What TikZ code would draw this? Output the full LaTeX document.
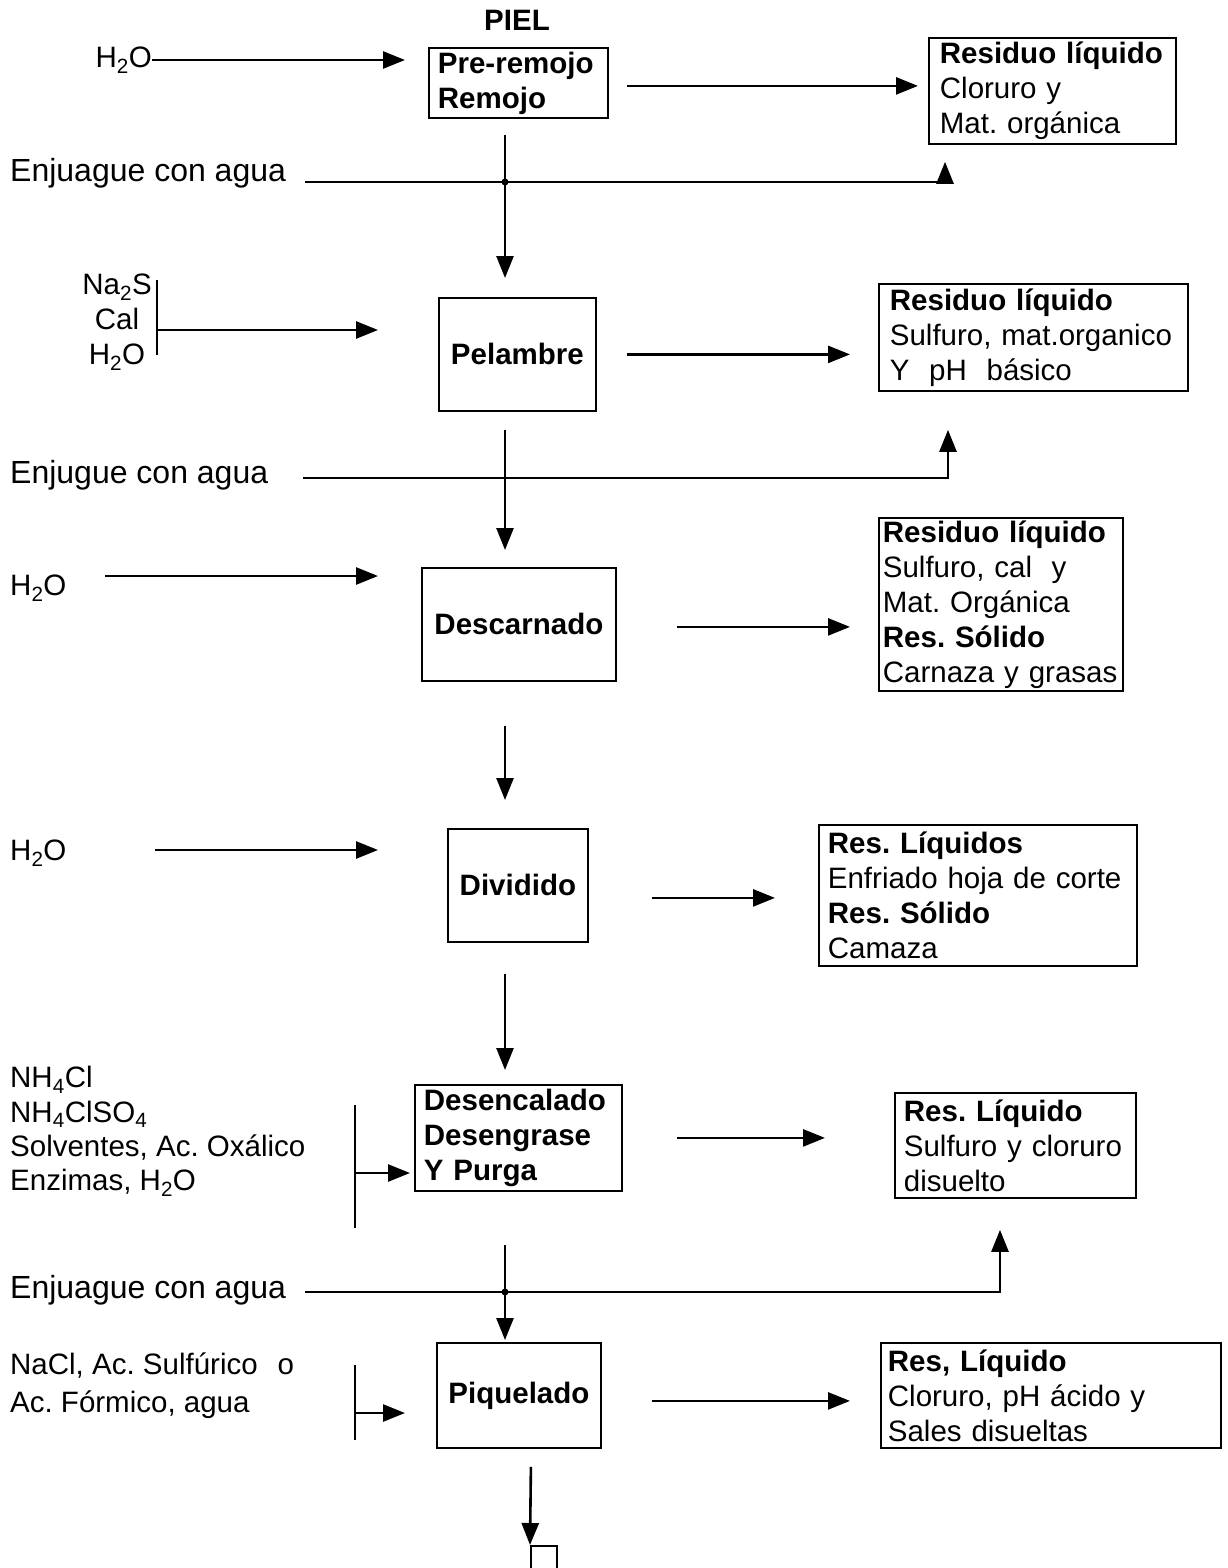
\documentclass[tikz,border=0pt]{standalone}
\usepackage{fontspec}
\setmainfont{Liberation Sans}
\usetikzlibrary{arrows.meta,calc}
\tikzset{
 txt/.style={font=\fontsize{29.5}{35}\selectfont, inner sep=0pt},
 bigtxt/.style={font=\fontsize{32}{38}\selectfont, inner sep=0pt},
 boxbase/.style={draw, line width=1.8pt, anchor=north west, inner xsep=10pt, inner ysep=0pt},
 proc/.style={boxbase, font=\fontsize{29.5}{35}\selectfont\bfseries, align=center},
 procL/.style={boxbase, font=\fontsize{29.5}{35}\selectfont\bfseries, align=left},
 res/.style={boxbase, inner xsep=11pt, font=\fontsize{29.5}{35}\selectfont, align=left},
 arr/.style={line width=2.6pt, -{Triangle[length=22pt,width=17pt]}},
 plainline/.style={line width=2.2pt},
}
\begin{document}
\frenchspacing
\begin{tikzpicture}[x=1pt,y=-1pt]
\useasboundingbox (0,0) rectangle (1227,1568);
\fill[white] (0,0) rectangle (1227,1568);
\coordinate (spine) at (505,0);

% ---------- Stage 1
\node[txt, font=\fontsize{29.5}{35}\selectfont\bfseries] (piel) at (517,20) {PIEL};
\node[procL, minimum width=179pt, minimum height=70pt, text width=161pt, inner xsep=9pt] (b1) at (428,47) {Pre-remojo\\Remojo};
\node[txt, anchor=east] (h1) at (152,60) {H\textsubscript{2}O};
\node[res, minimum width=247pt, minimum height=106pt, text width=225pt] (r1) at (928,37) {\textbf{Residuo líquido}\\Cloruro y\\Mat. orgánica};
\draw[arr] (h1.east) -- ($(h1.east -| b1.west)+(-23,0)$);
\draw[arr] ($(b1.east)+(18,3)$) -- ($(b1.east -| r1.west)+(-10,3)$);
\node[bigtxt, anchor=west] (e1) at (10,173) {Enjuague con agua};
\coordinate (s1) at (305,182);
\draw[arr] (s1) -| ($(r1.south west)+(17,17)$);

% ---------- Stage 2
\node[proc, minimum width=157pt, minimum height=113pt] (p2) at (438,297) {Pelambre};
\draw[arr] ($(spine |- b1.south)+(0,16)$) -- ($(spine |- p2.north)+(0,-19)$);
\fill (spine |- s1) circle (3.5);
\node[txt, align=center] (in2) at (117,322) {Na\textsubscript{2}S\\Cal\\H\textsubscript{2}O};
\coordinate (bar2a) at (157,280);
\coordinate (bar2b) at (157,355);
\coordinate (j2) at (157,330);
\draw[plainline] (bar2a) -- (bar2b);
\draw[arr] (j2) -- ($(j2 -| p2.west)+(-60,0)$);
\node[res, minimum width=309pt, minimum height=107pt, text width=287pt] (r2) at (878,283) {\textbf{Residuo líquido}\\Sulfuro, mat.organico\\Y\ \ pH\ \ básico};
\draw[arr] ($(p2.east)+(30,0)$) -- ($(p2.east -| r2.west)+(-28,0)$);
\node[bigtxt, anchor=west] (e2) at (10,475) {Enjugue con agua};
\coordinate (s2) at (303,478);
\draw[arr] (s2) -| ($(r2.south west)+(70,38)$);

% ---------- Stage 3
\node[proc, minimum width=194pt, minimum height=113pt] (d3) at (421,567) {Descarnado};
\draw[arr] ($(spine |- p2.south)+(0,18)$) -- ($(spine |- d3.north)+(0,-17)$);
\node[txt, anchor=west] (h3) at (10,588) {H\textsubscript{2}O};
\coordinate (s3) at (105,576);
\draw[arr] (s3) -- ($(s3 -| d3.west)+(-43,0)$);
\node[res, minimum width=244pt, minimum height=173pt, text width=236pt, inner xsep=4pt] (r3) at (878,517) {\textbf{Residuo líquido}\\Sulfuro, cal\ \ y\\Mat. Orgánica\\\textbf{Res. Sólido}\\Carnaza y grasas};
\draw[arr] ($(d3.east)+(60,2.5)$) -- ($(d3.east -| r3.west)+(-28,2.5)$);

% ---------- Stage 4
\node[proc, minimum width=140pt, minimum height=113pt] (v4) at (447,828) {Dividido};
\draw[arr] ($(spine |- d3.south)+(0,44)$) -- ($(spine |- v4.north)+(0,-28)$);
\node[txt, anchor=west] (h4) at (10,853) {H\textsubscript{2}O};
\coordinate (s4) at (155,850);
\draw[arr] (s4) -- ($(s4 -| v4.west)+(-69,0)$);
\node[res, minimum width=318pt, minimum height=141pt, text width=300pt, inner xsep=9pt] (r4) at (818,824) {\textbf{Res. Líquidos}\\Enfriado hoja de corte\\\textbf{Res. Sólido}\\Camaza};
\draw[arr] ($(v4.east)+(63,12.5)$) -- ($(v4.east -| r4.west)+(-43,12.5)$);

% ---------- Stage 5
\node[procL, minimum width=207pt, minimum height=106pt, text width=189pt, inner xsep=9pt] (s5) at (414,1084) {Desencalado\\Desengrase\\Y Purga};
\draw[arr] ($(spine |- v4.south)+(0,31)$) -- ($(spine |- s5.north)+(0,-14)$);
\node[txt, anchor=west, align=left, font=\fontsize{29.5}{34.3}\selectfont] (in5) at (10,1131.5) {NH\textsubscript{4}Cl\\NH\textsubscript{4}ClSO\textsubscript{4}\\Solventes, Ac. Oxálico\\Enzimas, H\textsubscript{2}O};
\coordinate (bar5a) at (355,1105);
\coordinate (bar5b) at (355,1228);
\coordinate (j5) at (355,1173);
\draw[plainline] (bar5a) -- (bar5b);
\draw[arr] (j5) -- ($(j5 -| s5.west)+(-4,0)$);
\node[res, minimum width=241pt, minimum height=105pt, text width=223pt, inner xsep=9pt] (r5) at (894,1092) {\textbf{Res. Líquido}\\Sulfuro y cloruro\\disuelto};
\draw[arr] ($(s5.east)+(54,0)$) -- ($(s5.east -| r5.west)+(-69,0)$);
\node[bigtxt, anchor=west] (e3) at (10,1290) {Enjuague con agua};
\coordinate (s6) at (305,1292);
\draw[arr] (s6) -| ($(r5.south west)+(106,31)$);

% ---------- Stage 6
\node[proc, minimum width=164pt, minimum height=105pt] (q6) at (436,1342) {Piquelado};
\draw[arr] ($(spine |- s5.south)+(0,53)$) -- ($(spine |- q6.north)+(0,-2)$);
\fill (spine |- s6) circle (3.5);
\node[txt, anchor=west, align=left, font=\fontsize{29.5}{38}\selectfont] (in6) at (10,1386) {NaCl, Ac. Sulfúrico\hspace{20pt}o\\Ac. Fórmico, agua};
\coordinate (bar6a) at (355,1365);
\coordinate (bar6b) at (355,1440);
\coordinate (j6) at (355,1413);
\draw[plainline] (bar6a) -- (bar6b);
\draw[arr] (j6) -- ($(j6 -| q6.west)+(-31,0)$);
\node[res, minimum width=340pt, minimum height=105pt, text width=326pt, inner xsep=7pt] (r6) at (880,1342) {\textbf{Res, Líquido}\\Cloruro, pH ácido y\\Sales disueltas};
\draw[arr] ($(q6.east)+(50,5.5)$) -- ($(q6.east -| r6.west)+(-30,5.5)$);

% ---------- End
\node[draw, line width=1.8pt, anchor=north west, minimum width=26pt, minimum height=34pt, inner sep=0pt] (endbox) at (530,1545) {};
\draw[arr] ($(q6.south)+(12,18)$) -- (endbox.north west);
\end{tikzpicture}
\end{document}
